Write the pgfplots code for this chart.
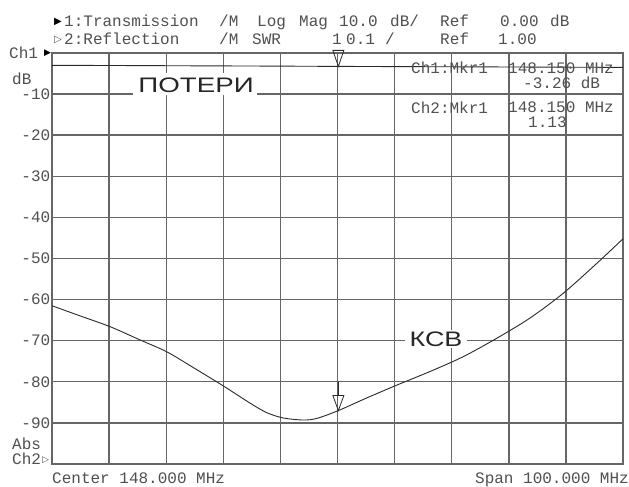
\documentclass[border=0pt]{standalone}
\usepackage{pgfplots}
\pgfplotsset{compat=1.18}
\usepackage{fontspec}
\setmainfont{Liberation Sans}
\newfontfamily\mono{Liberation Mono}
\newfontfamily\sym{DejaVu Sans}
\definecolor{txt}{HTML}{505050}
\definecolor{gridc}{HTML}{666666}
\definecolor{trace}{HTML}{2A2A2A}
\pgfdeclareplotmark{mkrA}{%
  \pgfpathmoveto{\pgfpoint{0pt}{0pt}}%
  \pgfpathlineto{\pgfpoint{-5.5pt}{16pt}}%
  \pgfpathlineto{\pgfpoint{5.5pt}{16pt}}%
  \pgfpathclose
  \pgfusepathqstroke
}
\pgfdeclareplotmark{mkrB}{%
  \pgfpathmoveto{\pgfpoint{0pt}{0pt}}%
  \pgfpathlineto{\pgfpoint{-5.5pt}{15pt}}%
  \pgfpathlineto{\pgfpoint{5.5pt}{15pt}}%
  \pgfpathclose
  \pgfpathmoveto{\pgfpoint{0pt}{15pt}}%
  \pgfpathlineto{\pgfpoint{0pt}{29pt}}%
  \pgfusepathqstroke
}
\newcommand{\mt}{\mono\fontsize{16}{16}\selectfont\color{txt}}
\tikzset{t/.style={anchor=base west, inner sep=0pt}}
\begin{document}
\begin{tikzpicture}[x=1pt,y=1pt]
\path[use as bounding box, fill=white] (0,0) rectangle (629,487);
\begin{axis}[at={(52pt,23pt)}, anchor=south west, width=571pt, height=411pt, scale only axis,
  xmin=98, xmax=198, ymin=-100, ymax=0,
  xtick={98,108,...,198}, xticklabels={},
  ytick={-90,-80,...,-10},
  yticklabels={-90,-80,-70,-60,-50,-40,-30,-20,-10},
  yticklabel style={font=\mt, inner xsep=1.5pt},
  grid=major, major grid style={draw=gridc, line width=1.4pt},
  axis line style={draw=gridc, line width=1.4pt},
  major tick length=0pt, tick style={draw=none},
  clip=false]
\addplot[trace, line width=0.9pt] coordinates {
 (98,-3.0) (110,-3.05) (123,-3.12) (135,-3.18) (148.15,-3.26) (160,-3.32) (173,-3.38) (185,-3.44) (198,-3.5)};
\addplot[only marks, mark=mkrA, trace, line width=0.8pt] coordinates {(148.15,-3.26)};
\end{axis}
\begin{axis}[at={(52pt,23pt)}, anchor=south west, width=571pt, height=411pt, scale only axis,
  xmin=98, xmax=198, ymin=1, ymax=2, hide axis, clip=false]
\addplot[trace, line width=0.9pt, smooth, tension=0.5] coordinates {
 (98,1.385) (103,1.36) (108.2,1.334) (113.4,1.302) (118.1,1.273) (122.7,1.235)
 (128,1.19) (132.7,1.148) (135.6,1.125) (138.5,1.112) (142,1.107) (144.4,1.111)
 (148.15,1.13) (153,1.16) (158.4,1.192) (164.2,1.225) (170,1.261) (175.9,1.306)
 (181.7,1.355) (187.5,1.415) (193.4,1.488) (198,1.548)};
\addplot[only marks, mark=mkrB, trace, line width=0.8pt] coordinates {(148.15,1.13)};
\end{axis}
% labels on white boxes
\node[fill=white, inner sep=0pt, minimum width=124pt, minimum height=22pt] at (195,403) {};
\node[xscale=1.32, text=black!85] at (196,402) {\fontsize{21}{21}\selectfont ПОТЕРИ};
\node[fill=white, inner sep=0pt, minimum width=62pt, minimum height=18pt] at (436,148) {};
\node[xscale=1.28, text=black!85] at (436,148) {\fontsize{21}{21}\selectfont КСВ};
% header
\node[t, text=black] at (54,462.5) {\sym\fontsize{10}{10}\selectfont ▶};
\node[t] at (64,460.5) {\mt 1:Transmission};
\node[t] at (219,460.5) {\mt /M};
\node[t] at (257,460.5) {\mt Log};
\node[t] at (299,460.5) {\mt Mag};
\node[t] at (339,460.5) {\mt 10.0};
\node[t] at (390,460.5) {\mt dB/};
\node[t] at (440,460.5) {\mt Ref};
\node[t] at (500,460.5) {\mt 0.00};
\node[t] at (550,460.5) {\mt dB};
\node[t, text=txt] at (54,444.5) {\sym\fontsize{10}{10}\selectfont ▷};
\node[t] at (64,442.5) {\mt 2:Reflection};
\node[t] at (219,442.5) {\mt /M};
\node[t] at (252,442.5) {\mt SWR};
\node[t] at (332,442.5) {\mt 1};
\node[t] at (346,442.5) {\mt 0.1};
\node[t] at (385,442.5) {\mt /};
\node[t] at (440,442.5) {\mt Ref};
\node[t] at (498,442.5) {\mt 1.00};
% marker readouts
\node[t] at (411,413.5) {\mt Ch1:Mkr1};
\node[t] at (508,413.5) {\mt 148.150 MHz};
\node[t] at (523,398.5) {\mt -3.26 dB};
\node[t] at (411,373.5) {\mt Ch2:Mkr1};
\node[t] at (508,374) {\mt 148.150 MHz};
\node[t] at (528,359) {\mt 1.13};
% left side labels
\node[t] at (9,428.5) {\mt Ch1};
\node[t, text=black] at (44,431) {\sym\fontsize{9}{9}\selectfont ▶};
\node[t] at (12,402.5) {\mt dB};
\node[t] at (12,37) {\mt Abs};
\node[t] at (12,22) {\mt Ch2};
\node[t, text=txt] at (42,24) {\sym\fontsize{9}{9}\selectfont ▷};
% bottom
\node[t] at (52,3.5) {\mt Center 148.000 MHz};
\node[anchor=base east, inner sep=0pt] at (629,3.5) {\mt Span 100.000 MHz};
\end{tikzpicture}
\end{document}
